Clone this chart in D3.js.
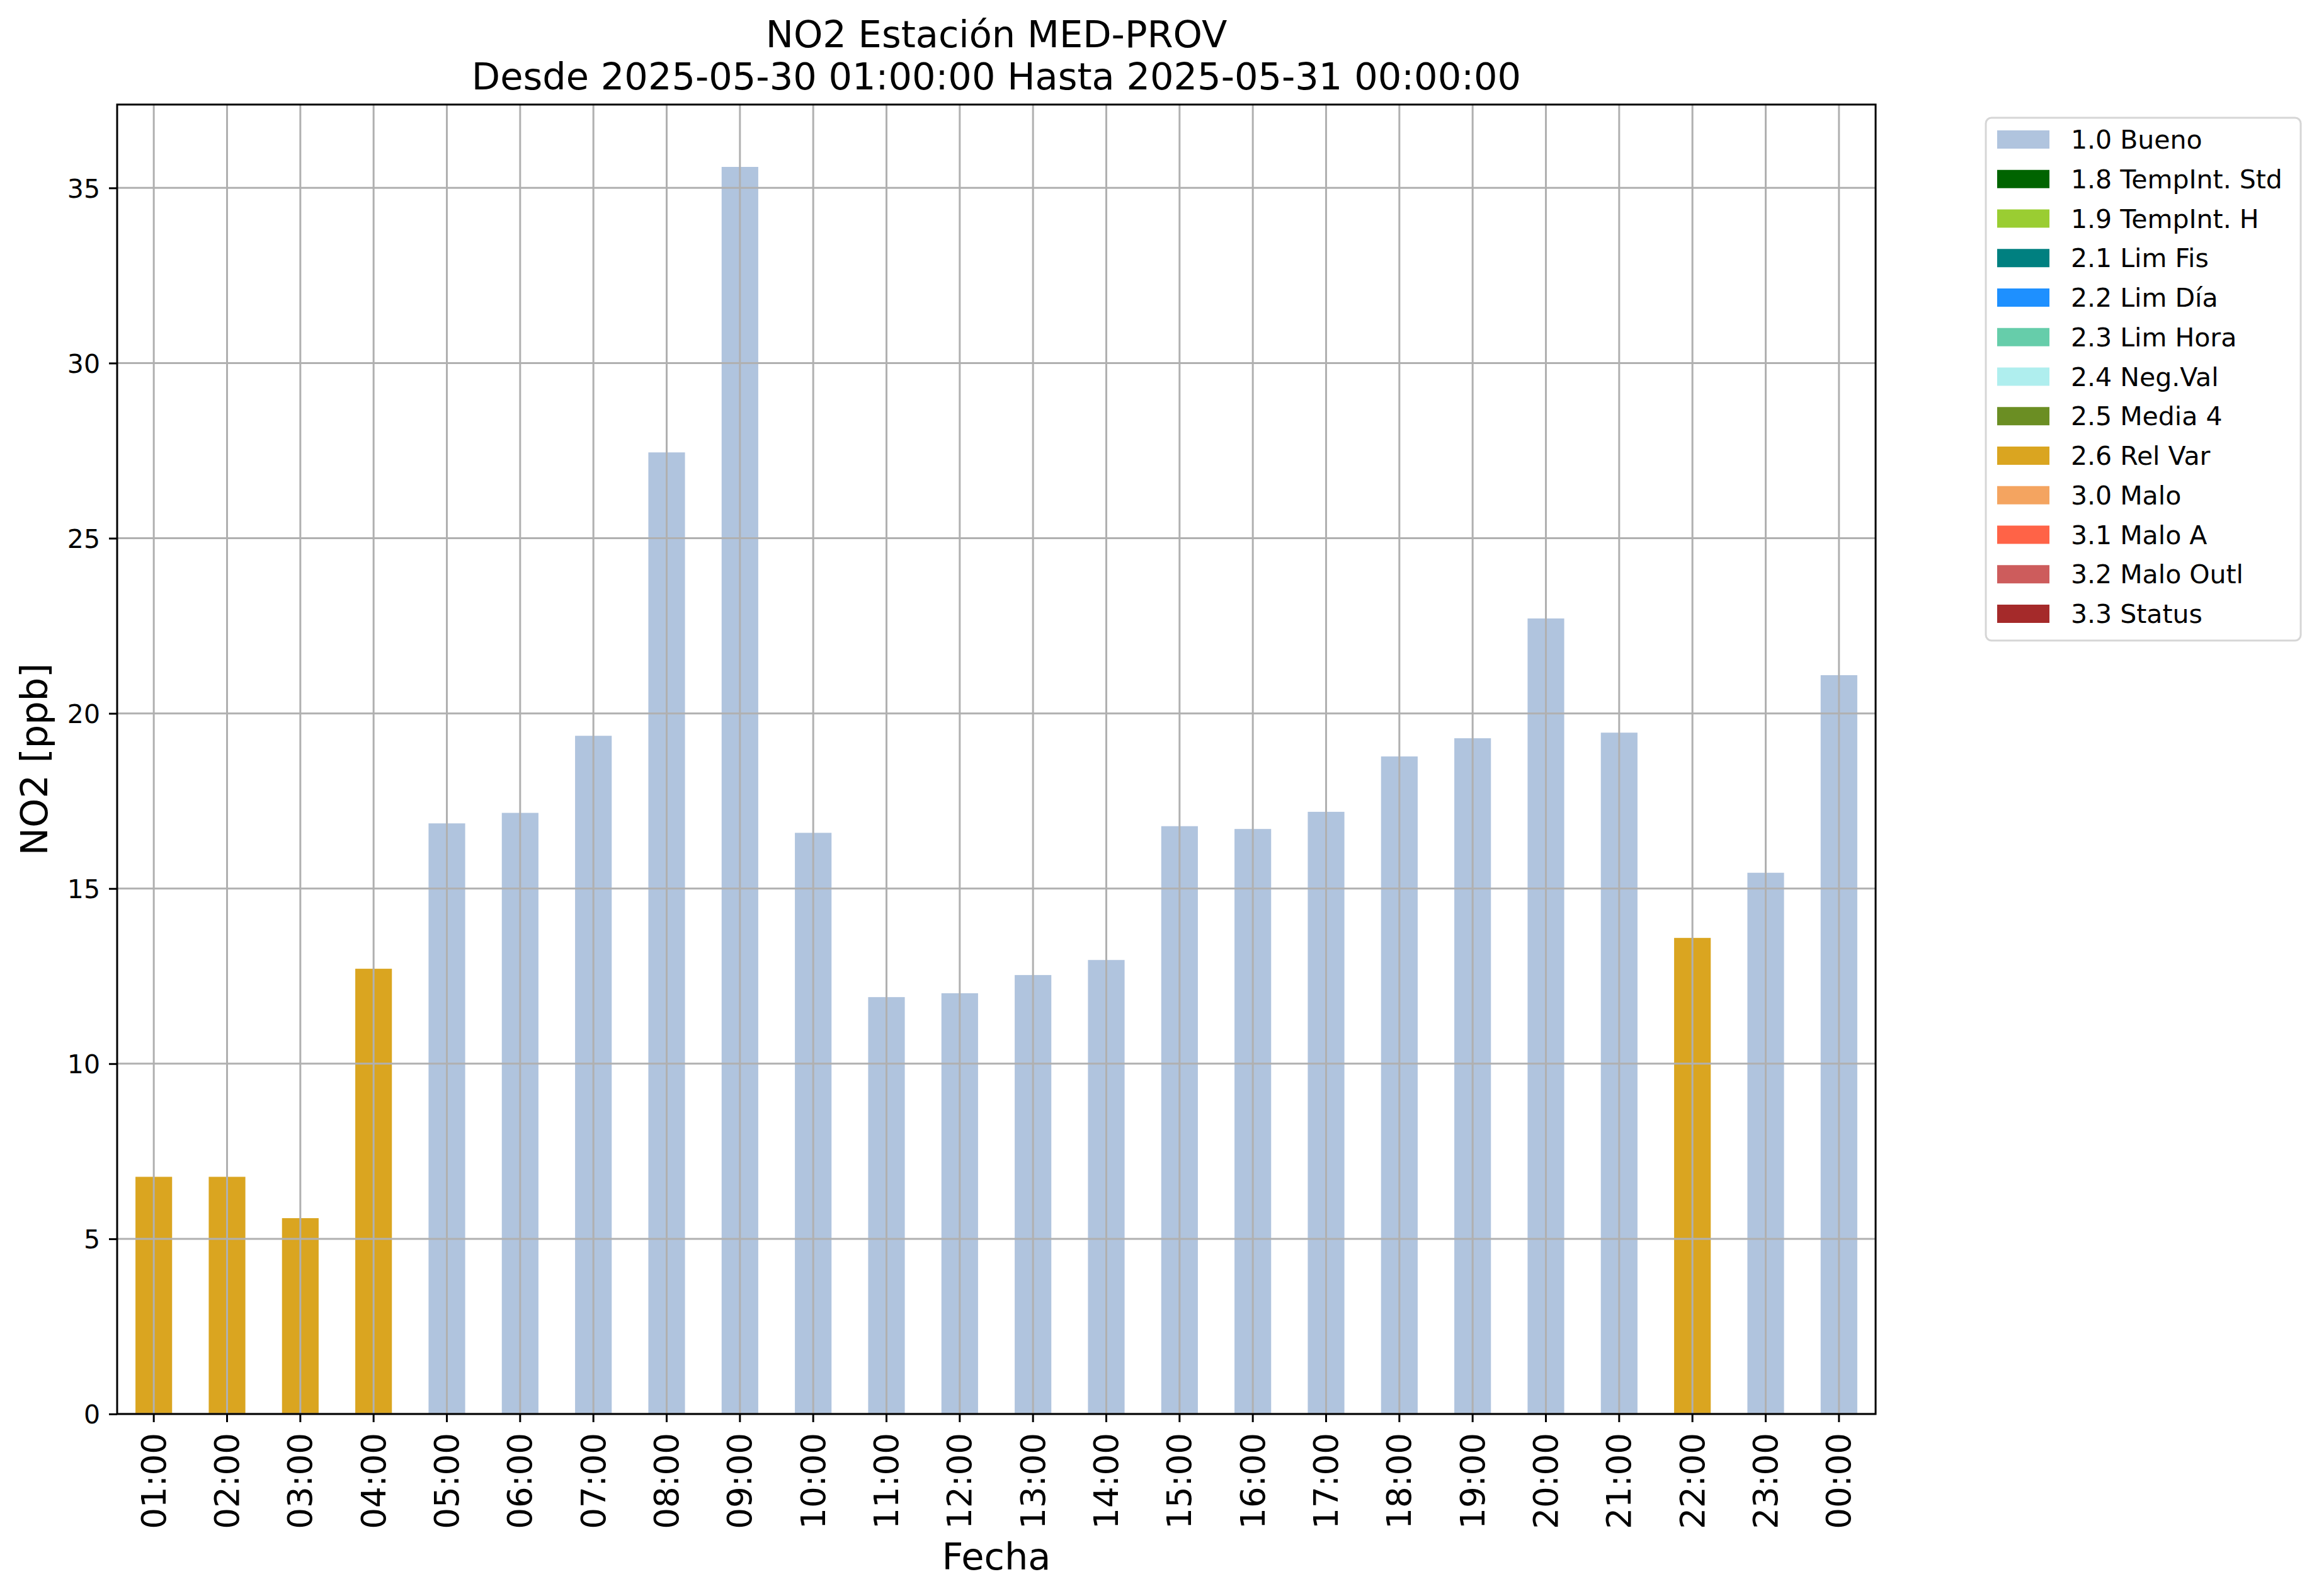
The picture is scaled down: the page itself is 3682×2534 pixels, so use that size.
<!DOCTYPE html>
<html>
<head>
<meta charset="utf-8">
<script src="https://cdn.jsdelivr.net/npm/d3@7"></script>
<style>
  html, body { margin: 0; padding: 0; background: #ffffff; }
  svg { display: block; }
  text { font-family: "DejaVu Sans", sans-serif; fill: #000; }
</style>
</head>
<body>
<script>
// ---- data ----
const categories = ["01:00","02:00","03:00","04:00","05:00","06:00","07:00","08:00","09:00","10:00","11:00","12:00",
                    "13:00","14:00","15:00","16:00","17:00","18:00","19:00","20:00","21:00","22:00","23:00","00:00"];
const values = [6.77, 6.77, 5.59, 12.71, 16.86, 17.16, 19.36, 27.45, 35.60, 16.59, 11.90, 12.01,
                12.53, 12.96, 16.78, 16.70, 17.19, 18.77, 19.29, 22.71, 19.45, 13.59, 15.45, 21.09];
const flags = ["2.6","2.6","2.6","2.6","1.0","1.0","1.0","1.0","1.0","1.0","1.0","1.0",
               "1.0","1.0","1.0","1.0","1.0","1.0","1.0","1.0","1.0","2.6","1.0","1.0"];
const legendCodes = ["1.0","1.8","1.9","2.1","2.2","2.3","2.4","2.5","2.6","3.0","3.1","3.2","3.3"];
const legendLabels = ["1.0 Bueno","1.8 TempInt. Std","1.9 TempInt. H","2.1 Lim Fis","2.2 Lim Día","2.3 Lim Hora",
                      "2.4 Neg.Val","2.5 Media 4","2.6 Rel Var","3.0 Malo","3.1 Malo A","3.2 Malo Outl","3.3 Status"];
const legendColors = ["#B0C4DE","#006400","#9ACD32","#008080","#1E90FF","#66CDAA",
                      "#AFEEEE","#6B8E23","#DAA520","#F4A460","#FF6347","#CD5C5C","#A52A2A"];
const yTicks = [0, 5, 10, 15, 20, 25, 30, 35];
const titleLines = ["NO2 Estación MED-PROV", "Desde 2025-05-30 01:00:00 Hasta 2025-05-31 00:00:00"];
const xLabel = "Fecha";
const yLabel = "NO2 [ppb]";

(function () {
// ---- layout ----
const W = 3682, H = 2534;
const pL = 186, pR = 2978, pT = 166, pB = 2245;

const svg = d3.select("body").append("svg").attr("width", W).attr("height", H);
svg.append("rect").attr("width", W).attr("height", H).attr("fill", "#fff");

const colorOf = d3.scaleOrdinal().domain(legendCodes).range(legendColors);
const yMax = d3.max(values) * 1.05;
const x = d3.scaleBand().domain(categories).range([pL, pR]).paddingInner(0.5).paddingOuter(0.25);
const y = d3.scaleLinear().domain([0, yMax]).range([pB, pT]);

const data = categories.map((c, i) => ({c, v: values[i], f: flags[i]}));

// bars
svg.append("g").selectAll("rect").data(data).join("rect")
  .attr("x", d => x(d.c))
  .attr("width", x.bandwidth())
  .attr("y", d => y(d.v))
  .attr("height", d => y(0) - y(d.v))
  .attr("fill", d => colorOf(d.f));

// grid (drawn on top of bars)
const grid = svg.append("g").attr("stroke", "#b0b0b0").attr("stroke-width", 3);
grid.selectAll("line.v").data(categories).join("line").attr("class","v")
  .attr("x1", d => x(d) + x.bandwidth()/2).attr("x2", d => x(d) + x.bandwidth()/2)
  .attr("y1", pT).attr("y2", pB);
grid.selectAll("line.h").data(yTicks).join("line").attr("class","h")
  .attr("x1", pL).attr("x2", pR)
  .attr("y1", d => y(d)).attr("y2", d => y(d));

// axes
const xAxis = d3.axisBottom(x).tickSize(13).tickPadding(0);
const gx = svg.append("g").attr("transform", `translate(0,${pB})`).call(xAxis);
gx.select(".domain").remove();
gx.selectAll(".tick line").attr("stroke", "#000").attr("stroke-width", 3);
gx.selectAll(".tick text")
  .attr("font-size", 53)
  .attr("text-anchor", "end")
  .attr("dy", null)
  .attr("dominant-baseline", "central")
  .attr("transform", "translate(0,30) rotate(-90)")
  .attr("x", 0).attr("y", 0);

const yAxis = d3.axisLeft(y).tickValues(yTicks).tickSize(13).tickPadding(14).tickFormat(d3.format("d"));
const gy = svg.append("g").attr("transform", `translate(${pL},0)`).call(yAxis);
gy.select(".domain").remove();
gy.selectAll(".tick line").attr("stroke", "#000").attr("stroke-width", 3);
gy.selectAll(".tick text").attr("font-size", 41).attr("dy", "0.36em");

// spines
svg.append("rect").attr("x", pL).attr("y", pT).attr("width", pR - pL).attr("height", pB - pT)
  .attr("fill", "none").attr("stroke", "#000").attr("stroke-width", 3);

// titles
svg.append("text").attr("x", (pL + pR)/2).attr("y", 75).attr("text-anchor", "middle")
  .attr("font-size", 59).text(titleLines[0]);
svg.append("text").attr("x", (pL + pR)/2).attr("y", 142).attr("text-anchor", "middle")
  .attr("font-size", 59).text(titleLines[1]);

// axis labels
svg.append("text").attr("x", (pL + pR)/2).attr("y", 2492).attr("text-anchor", "middle")
  .attr("font-size", 59).text(xLabel);
svg.append("text").attr("transform", `translate(75,${(pT + pB)/2}) rotate(-90)`)
  .attr("text-anchor", "middle").attr("font-size", 59).text(yLabel);

// legend
const lg = svg.append("g");
lg.append("rect").attr("x", 3153).attr("y", 187).attr("width", 500).attr("height", 830)
  .attr("rx", 9).attr("fill", "#fff").attr("fill-opacity", 0.8)
  .attr("stroke", "#d6d6d6").attr("stroke-width", 3);
const rowH = 62.75;
const rows = lg.selectAll("g.row").data(legendLabels).join("g").attr("class", "row")
  .attr("transform", (d, i) => `translate(0,${236 + i * rowH})`);
rows.append("rect").attr("x", 3171).attr("y", -29).attr("width", 83).attr("height", 29)
  .attr("fill", (d, i) => legendColors[i]);
rows.append("text").attr("x", 3288).attr("y", 0).attr("font-size", 41).text(d => d);
})();
</script>
</body>
</html>
